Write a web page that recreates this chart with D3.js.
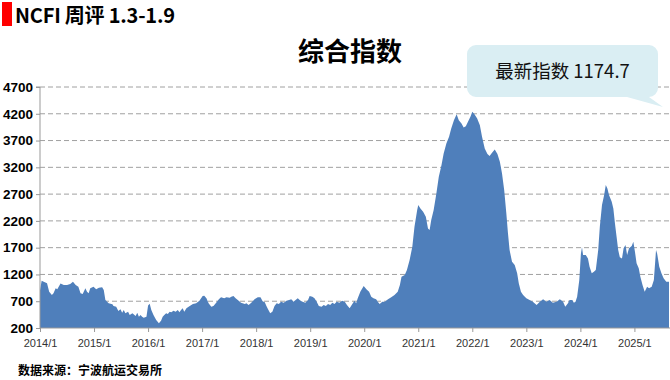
<!DOCTYPE html>
<html>
<head>
<meta charset="utf-8">
<script src="https://cdn.jsdelivr.net/npm/d3@7"></script>
<style>
  html, body { margin: 0; padding: 0; background: #fff; }
  svg { display: block; }
</style>
</head>
<body>
<svg id="chart" width="670" height="380"></svg>
<script>
// ---- data ----
const headerTitle = "NCFI 周评 1.3-1.9";
const chartTitle = "综合指数";
const calloutText = "最新指数 1174.7";
const sourceText = "数据来源：宁波航运交易所";

const yTicks = [200, 700, 1200, 1700, 2200, 2700, 3200, 3700, 4200, 4700];
const xTickYears = [2014, 2015, 2016, 2017, 2018, 2019, 2020, 2021, 2022, 2023, 2024, 2025];
const xTickLabels = ["2014/1", "2015/1", "2016/1", "2017/1", "2018/1", "2019/1", "2020/1", "2021/1", "2022/1", "2023/1", "2024/1", "2025/1"];

// time as fractional year
const times = [
  2014.00, 2014.03, 2014.07, 2014.13, 2014.17, 2014.22, 2014.25, 2014.29, 2014.32, 2014.38,
  2014.44, 2014.50, 2014.56, 2014.61, 2014.66, 2014.71, 2014.75, 2014.79, 2014.84, 2014.87,
  2014.90, 2014.93, 2014.99, 2015.04, 2015.09, 2015.15, 2015.18, 2015.21, 2015.27, 2015.34,
  2015.36, 2015.41, 2015.45, 2015.49, 2015.52, 2015.55, 2015.58, 2015.63, 2015.66, 2015.71,
  2015.77, 2015.80, 2015.83, 2015.86, 2015.89, 2015.92, 2015.97, 2016.00, 2016.03, 2016.06,
  2016.10, 2016.15, 2016.20, 2016.24, 2016.27, 2016.30, 2016.335, 2016.365, 2016.40, 2016.43,
  2016.47, 2016.51, 2016.55, 2016.58, 2016.61, 2016.64, 2016.67, 2016.71, 2016.75, 2016.80,
  2016.83, 2016.89, 2016.95, 2017.01, 2017.04, 2017.08, 2017.12, 2017.17, 2017.21, 2017.26,
  2017.31, 2017.35, 2017.41, 2017.45, 2017.51, 2017.54, 2017.58, 2017.62, 2017.66, 2017.72,
  2017.79, 2017.82, 2017.86, 2017.91, 2017.97, 2018.03, 2018.08, 2018.12, 2018.16, 2018.19,
  2018.22, 2018.26, 2018.30, 2018.34, 2018.38, 2018.42, 2018.46, 2018.51, 2018.56, 2018.61,
  2018.65, 2018.69, 2018.73, 2018.77, 2018.82, 2018.86, 2018.91, 2018.96, 2018.99, 2019.04,
  2019.08, 2019.12, 2019.16, 2019.21, 2019.25, 2019.29, 2019.33, 2019.37, 2019.41, 2019.45,
  2019.49, 2019.54, 2019.59, 2019.64, 2019.68, 2019.73, 2019.78, 2019.82, 2019.85, 2019.88,
  2019.93, 2019.99, 2020.04, 2020.09, 2020.13, 2020.17, 2020.22, 2020.25, 2020.285, 2020.335,
  2020.38, 2020.44, 2020.50, 2020.56, 2020.62, 2020.66, 2020.69, 2020.75, 2020.79, 2020.84,
  2020.89, 2020.93, 2020.98, 2021.00, 2021.04, 2021.09, 2021.14, 2021.18, 2021.21, 2021.24,
  2021.285, 2021.335, 2021.38, 2021.43, 2021.47, 2021.52, 2021.57, 2021.61, 2021.66, 2021.71,
  2021.75, 2021.80, 2021.84, 2021.88, 2021.92, 2021.965, 2022.00, 2022.04, 2022.09, 2022.14,
  2022.18, 2022.23, 2022.28, 2022.32, 2022.365, 2022.415, 2022.465, 2022.51, 2022.55, 2022.59,
  2022.63, 2022.66, 2022.69, 2022.735, 2022.785, 2022.83, 2022.86, 2022.90, 2022.94, 2023.00,
  2023.06, 2023.12, 2023.19, 2023.25, 2023.31, 2023.37, 2023.43, 2023.49, 2023.56, 2023.62,
  2023.68, 2023.72, 2023.77, 2023.80, 2023.85, 2023.88, 2023.91, 2023.94, 2023.98, 2024.01,
  2024.03, 2024.05, 2024.10, 2024.14, 2024.17, 2024.21, 2024.25, 2024.285, 2024.33, 2024.36,
  2024.40, 2024.44, 2024.47, 2024.50, 2024.53, 2024.58, 2024.61, 2024.64, 2024.67, 2024.70,
  2024.73, 2024.77, 2024.80, 2024.835, 2024.865, 2024.90, 2024.95, 2024.98, 2025.01, 2025.04,
  2025.08, 2025.11, 2025.15, 2025.19, 2025.235, 2025.27, 2025.32, 2025.36, 2025.40, 2025.42,
  2025.46, 2025.50, 2025.54, 2025.59, 2025.64
];
const values = [
  900, 1083, 1065, 1034, 878, 816, 847, 940, 922, 1030,
  1002, 1002, 1021, 1065, 1002, 971, 847, 834, 940, 878,
  847, 940, 971, 922, 953, 959, 909, 722, 660, 642,
  611, 598, 517, 548, 486, 536, 474, 505, 443, 474,
  424, 486, 411, 443, 411, 393, 411, 620, 655, 536,
  443, 349, 287, 336, 411, 443, 474, 461, 505, 492,
  523, 505, 536, 492, 536, 567, 505, 567, 598, 629,
  648, 660, 710, 797, 802, 754, 660, 598, 610, 673,
  735, 772, 754, 772, 766, 785, 797, 754, 722, 673,
  648, 660, 629, 673, 735, 772, 772, 700, 680, 610,
  550, 474, 505, 610, 660, 648, 691, 673, 710, 722,
  735, 691, 722, 754, 710, 691, 673, 722, 797, 785,
  754, 691, 610, 598, 629, 610, 648, 629, 673, 648,
  691, 673, 710, 691, 629, 567, 648, 710, 660, 754,
  880, 984, 922, 877, 784, 754, 735, 691, 648, 691,
  691, 735, 772, 816, 877, 1002, 1157, 1189, 1282, 1469,
  1717, 2090, 2402, 2495, 2433, 2371, 2277, 2060, 2029, 2215,
  2402, 2713, 3023, 3242, 3460, 3646, 3770, 3926, 4081, 4193,
  4081, 4019, 3945, 3969, 4050, 4143, 4236, 4193, 4113, 3988,
  3770, 3553, 3447, 3410, 3471, 3535, 3447, 3304, 3087, 2775,
  2340, 1967, 1655, 1437, 1376, 1221, 1034, 878, 816, 754,
  722, 691, 629, 691, 735, 691, 722, 673, 691, 735,
  691, 598, 660, 722, 722, 673, 691, 784, 1096, 1593,
  1706, 1562, 1562, 1500, 1344, 1221, 1252, 1282, 1655, 2090,
  2495, 2682, 2868, 2806, 2682, 2557, 2433, 2153, 1904, 1655,
  1519, 1500, 1687, 1749, 1562, 1687, 1730, 1810, 1624, 1407,
  1314, 1157, 1002, 878, 971, 940, 971, 1096, 1655, 1593,
  1344, 1221, 1127, 1065, 1065
];

// ---- drawing ----
const svg = d3.select("#chart");
const plotLeft = 40, plotRight = 669, plotTop = 87, plotBottom = 328;

const x = d3.scaleLinear()
  .domain([2014, times[times.length - 1]])
  .range([plotLeft, plotRight]);
const y = d3.scaleLinear()
  .domain([200, 4700])
  .range([plotBottom, plotTop]);

const data = times.map((t, i) => ({ t, v: values[i] }));

// header bar + title
svg.append("rect").attr("x", 2).attr("y", 2).attr("width", 10).attr("height", 24).attr("fill", "#ff0000");
svg.append("text").attr("x", 15).attr("y", 22.5)
  .attr("font-family", "'Noto Sans CJK SC', 'Liberation Sans', sans-serif")
  .attr("font-weight", "bold").attr("font-size", 20).attr("fill", "#000")
  .attr("textLength", 160).attr("lengthAdjust", "spacing")
  .text(headerTitle);

// chart title
svg.append("text").attr("x", 350).attr("y", 61).attr("text-anchor", "middle")
  .attr("font-family", "'Noto Sans CJK SC', sans-serif")
  .attr("font-weight", "bold").attr("font-size", 26).attr("fill", "#000")
  .text(chartTitle);

// gridlines
svg.append("g").selectAll("line")
  .data(yTicks.filter(d => d > 200))
  .join("line")
  .attr("x1", plotLeft).attr("x2", 670)
  .attr("y1", d => y(d)).attr("y2", d => y(d))
  .attr("stroke", "#a0a0a0").attr("stroke-width", 1)
  .attr("stroke-dasharray", "5,3");

// area
const area = d3.area()
  .x(d => x(d.t))
  .y0(y(200))
  .y1(d => y(d.v));
svg.append("path").datum(data)
  .attr("d", area)
  .attr("fill", "#4f7fbb");

// y axis
const yAxis = d3.axisLeft(y).tickValues(yTicks).tickSize(4).tickFormat(d3.format("d"));
const gy = svg.append("g").attr("transform", `translate(${plotLeft},0)`).call(yAxis);
gy.select(".domain").attr("stroke", "#999").attr("d", `M-4,${plotTop}H0V${plotBottom}`);
gy.selectAll(".tick line").attr("stroke", "#999");
gy.selectAll(".tick text")
  .attr("x", -7)
  .attr("font-family", "'Liberation Sans', Arial, sans-serif")
  .attr("font-weight", "bold").attr("font-size", 13.5).attr("fill", "#000");

// x axis
const xAxis = d3.axisBottom(x).tickValues(xTickYears).tickSize(4)
  .tickFormat((d, i) => xTickLabels[i]);
const gx = svg.append("g").attr("transform", `translate(0,${plotBottom})`).call(xAxis);
gx.select(".domain").attr("stroke", "#999").attr("d", `M${plotLeft},0H670`);
gx.selectAll(".tick line").attr("stroke", "#999");
gx.selectAll(".tick text")
  .attr("y", 11)
  .attr("font-family", "'Liberation Sans', Arial, sans-serif")
  .attr("font-size", 11).attr("fill", "#333");

// callout
const cx0 = 467, cy0 = 45, cw = 191, ch = 52, r = 9;
const calloutPath = d3.path();
calloutPath.moveTo(cx0 + r, cy0);
calloutPath.lineTo(cx0 + cw - r, cy0);
calloutPath.arcTo(cx0 + cw, cy0, cx0 + cw, cy0 + r, r);
calloutPath.lineTo(cx0 + cw, cy0 + ch - r);
calloutPath.arcTo(cx0 + cw, cy0 + ch, cx0 + cw - r, cy0 + ch, r);
calloutPath.lineTo(663, 107);
calloutPath.lineTo(627, cy0 + ch);
calloutPath.lineTo(cx0 + r, cy0 + ch);
calloutPath.arcTo(cx0, cy0 + ch, cx0, cy0 + ch - r, r);
calloutPath.lineTo(cx0, cy0 + r);
calloutPath.arcTo(cx0, cy0, cx0 + r, cy0, r);
calloutPath.closePath();
svg.append("path").attr("d", calloutPath.toString()).attr("fill", "#daeef3");
svg.append("text").attr("x", cx0 + cw / 2).attr("y", 78).attr("text-anchor", "middle")
  .attr("font-family", "'Noto Sans CJK SC', sans-serif")
  .attr("font-size", 18.5).attr("fill", "#111")
  .text(calloutText);

// source
svg.append("text").attr("x", 18).attr("y", 375)
  .attr("font-family", "'Noto Sans CJK SC', sans-serif")
  .attr("font-weight", "bold").attr("font-size", 12).attr("fill", "#000")
  .text(sourceText);
</script>
</body>
</html>
